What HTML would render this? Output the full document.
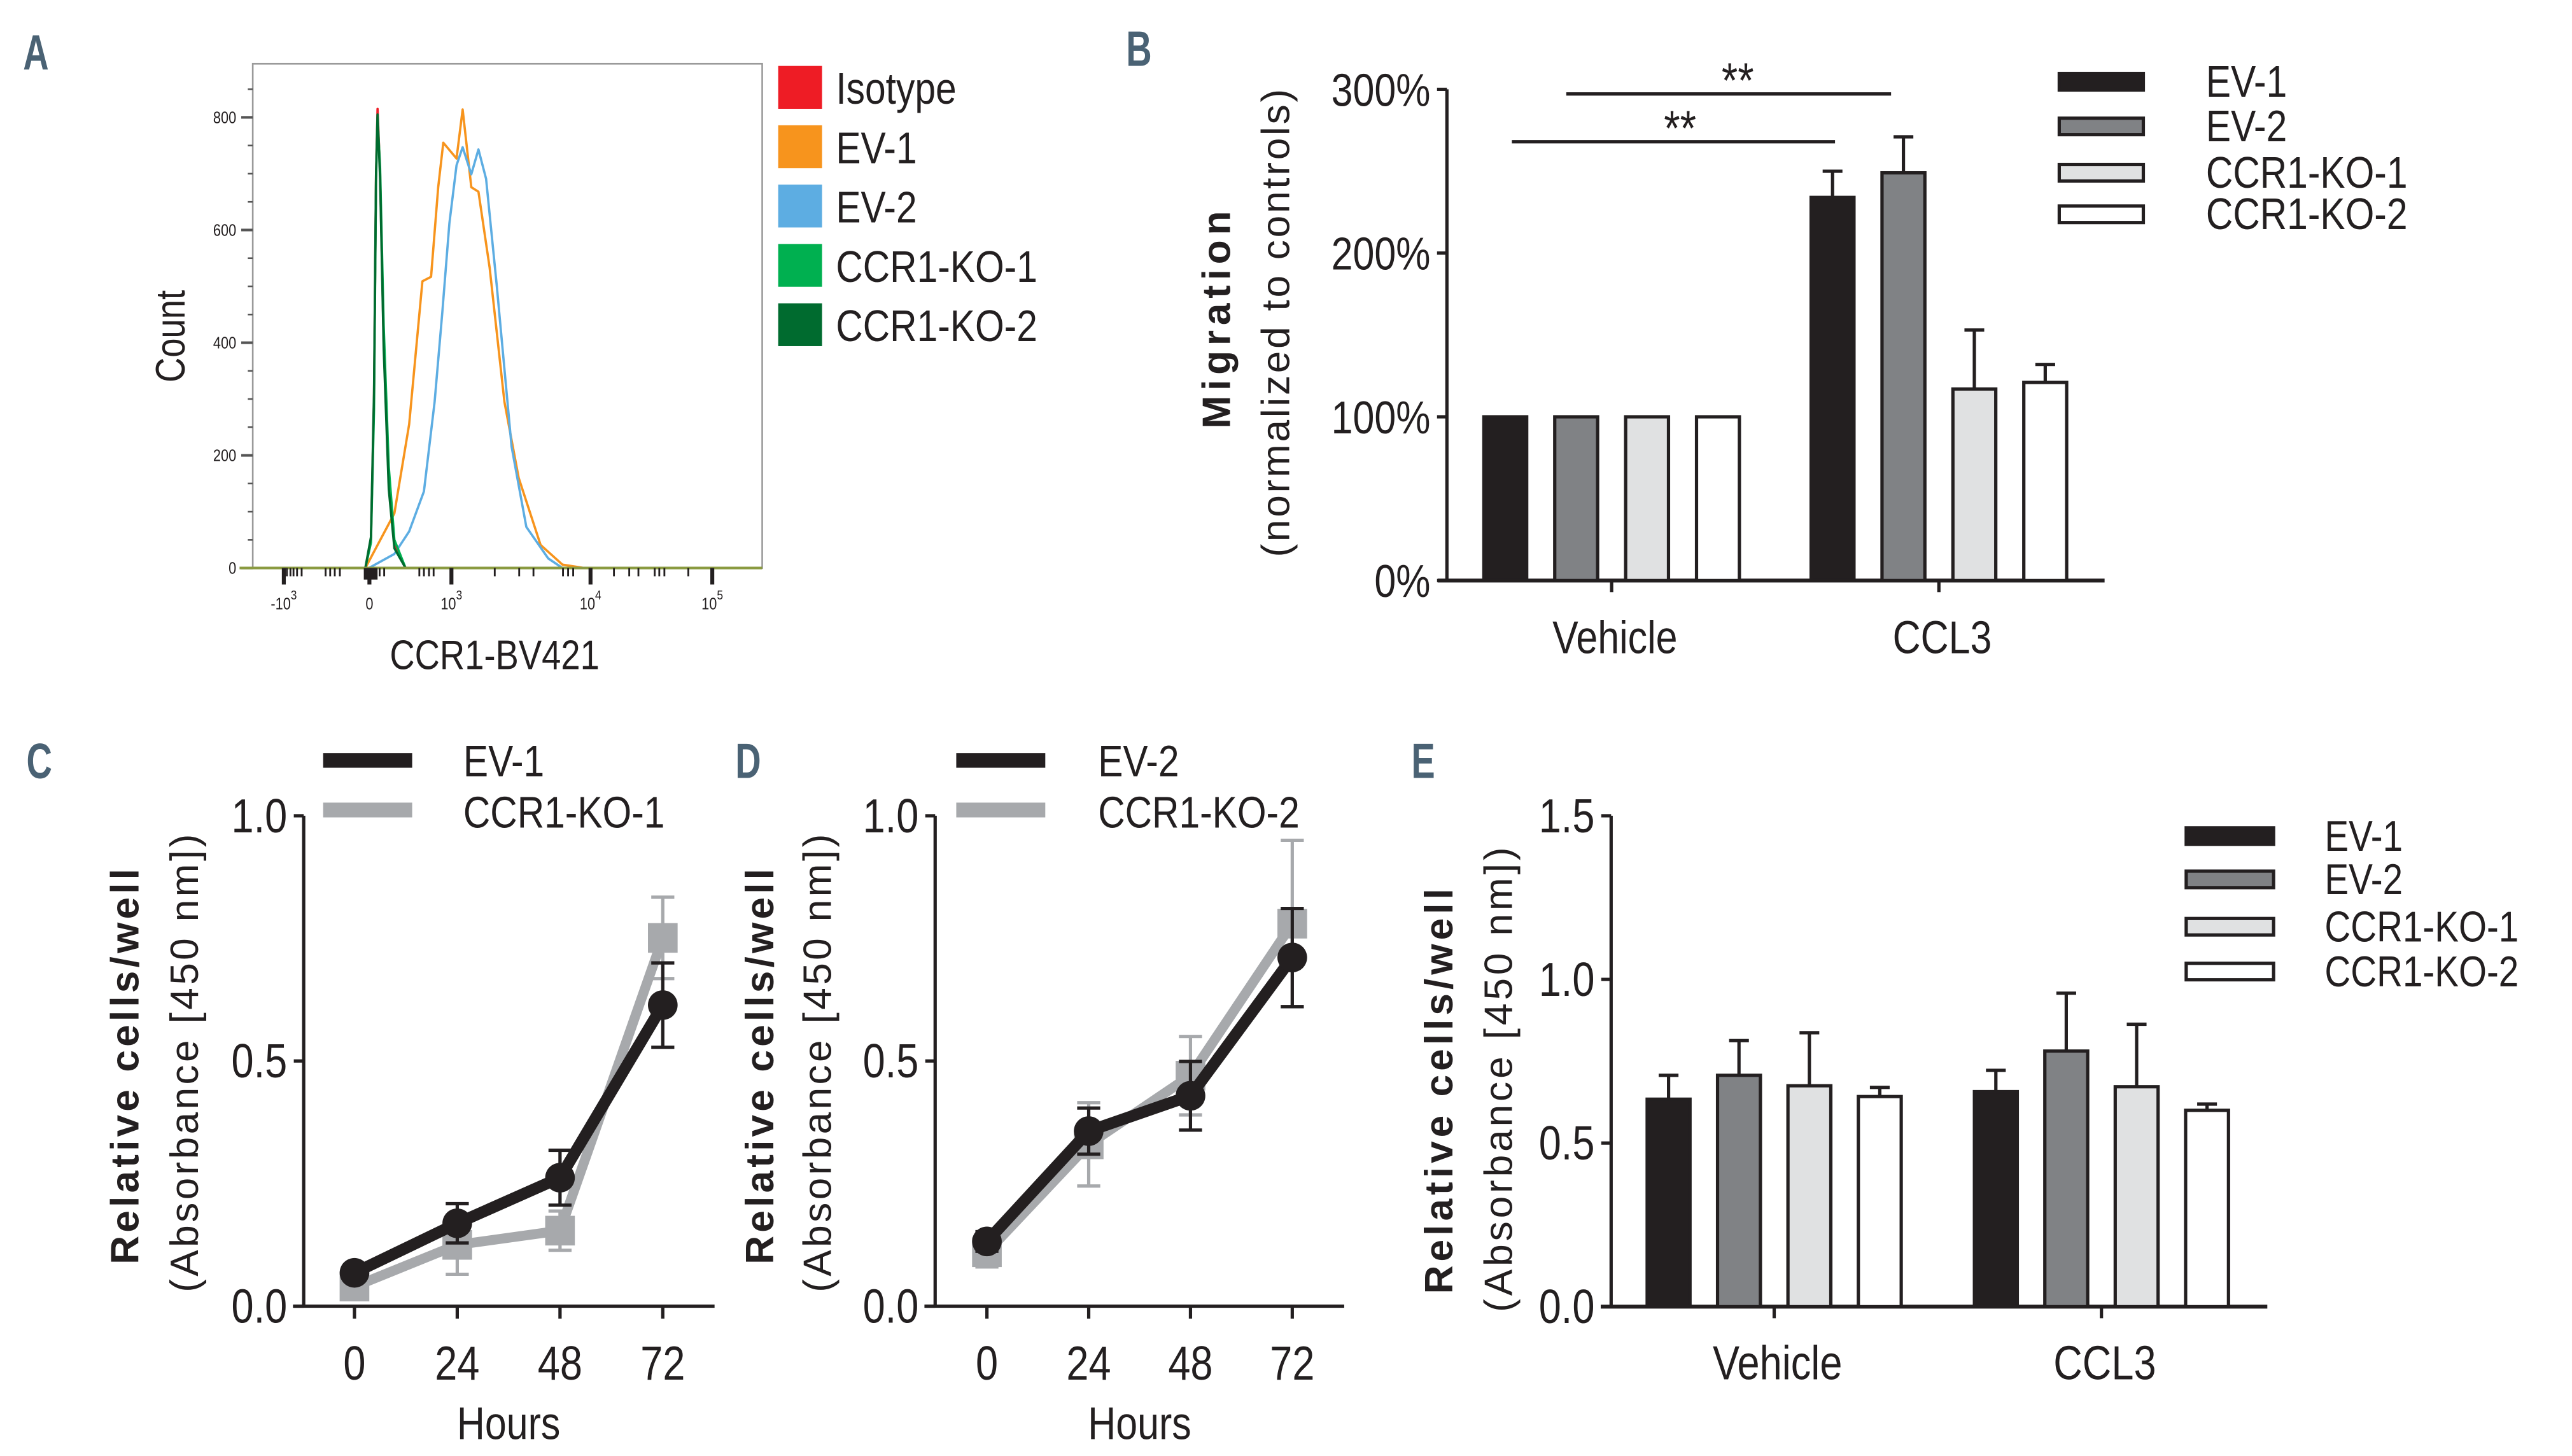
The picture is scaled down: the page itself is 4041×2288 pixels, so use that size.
<!DOCTYPE html>
<html><head><meta charset="utf-8"><style>
html,body{margin:0;padding:0;background:#fff;}
svg{display:block;}
text{font-family:"Liberation Sans Narrow","Liberation Sans",sans-serif;fill:#231f20;}
.b{font-family:"Liberation Sans",sans-serif;font-weight:bold;}
.r{font-family:"Liberation Sans",sans-serif;}
.pl{font-family:"Liberation Sans Narrow","Liberation Sans",sans-serif;font-weight:bold;fill:#4a6274;font-size:30px;}
</style></head><body>
<svg id="fig" xmlns="http://www.w3.org/2000/svg" width="4041" height="2288" viewBox="0 0 1560 883.3" preserveAspectRatio="none">
<text class="pl" x="14" y="42">A</text>
<text class="pl" x="683" y="40">B</text>
<text class="pl" x="16" y="472">C</text>
<text class="pl" x="446" y="472">D</text>
<text class="pl" x="856" y="472">E</text>
<g id="gA"></g>
<g id="gB"></g>
<g id="gC"></g>
<g id="gD"></g>
<g id="gE"></g>
</svg>
<script>
// ---------- Panel A data ----------
const histLegend = ["Isotype","EV-1","EV-2","CCR1-KO-1","CCR1-KO-2"];
const histColors = ["#ee1c25","#f7941d","#5dade2","#00b050","#006b2f"];
const countTicks = [0,200,400,600,800];
const narrowCh = [221,232,238,242,245,250,257,267,278,300];
const isoCounts = [0,50,300,700,815,700,400,150,40,0];
const ko1Counts = [0,45,280,690,800,710,430,180,50,0];
const ko2Counts = [0,55,310,700,805,690,390,140,35,0];
const ev1Ch = [221,278,307,333,350,364,374,400,412,429,443,465,494,522,565,608,651];
const ev1Counts = [0,97,255,509,517,676,755,727,814,676,668,533,295,160,41,6,0];
const ev2Ch = [228,278,307,336,357,372,386,400,412,429,443,458,479,508,537,580,608];
const ev2Counts = [0,25,65,136,295,453,612,715,747,699,743,691,501,216,73,17,0];
const xMajorCh = [61,229,390,663,902];
const xMajorLabels = ["-10","0","10","10","10"];
const xMajorExp = ["3","","3","4","5"];
const xMinorCh = [67,74,80,87,96,143,152,161,171,240,249,258,327,336,346,355,475,523,551,609,619,629,709,739,757,789,798,808,855];

// ---------- Panel B data ----------
const migGroups = ["Vehicle","CCL3"];
const migSeries = ["EV-1","EV-2","CCR1-KO-1","CCR1-KO-2"];
const migEV1 = [100,234]; const migEV1Err = [0,16];
const migEV2 = [100,249]; const migEV2Err = [0,22];
const migKO1 = [100,117]; const migKO1Err = [0,36];
const migKO2 = [100,121]; const migKO2Err = [0,11];
const migTicks = [0,100,200,300];

// ---------- Panel C/D data ----------
const hours = [0,24,48,72];
const cEV1 = [0.068,0.169,0.262,0.614]; const cEV1Err = [0.01,0.04,0.056,0.086];
const cKO1 = [0.040,0.125,0.154,0.751]; const cKO1Err = [0.01,0.06,0.04,0.083];
const dEV2 = [0.132,0.357,0.429,0.711]; const dEV2Err = [0.02,0.047,0.07,0.10];
const dKO2 = [0.110,0.330,0.470,0.780]; const dKO2Err = [0.03,0.085,0.08,0.17];
const growthTicks = [0.0,0.5,1.0];

// ---------- Panel E data ----------
const absEV1 = [0.634,0.657]; const absEV1Err = [0.073,0.065];
const absEV2 = [0.707,0.781]; const absEV2Err = [0.106,0.177];
const absKO1 = [0.675,0.672]; const absKO1Err = [0.162,0.191];
const absKO2 = [0.642,0.600]; const absKO2Err = [0.028,0.019];
const absTicks = [0.0,0.5,1.0,1.5];

const barFills = ["#231f20","#808285","#e0e1e2","#ffffff"];
const NS="http://www.w3.org/2000/svg";
function mk(parent,tag,attrs,txt){const e=document.createElementNS(NS,tag);for(const k in attrs)e.setAttribute(k,attrs[k]);if(txt!==undefined)e.textContent=txt;parent.appendChild(e);return e;}

// ===== Panel A =====
(function(){
const g=document.getElementById('gA');
const L=153.3,R=462.3,T=38.7,B=344.6;
const xA=ch=>L+ch/1000*(R-L);
const yA=c=>B-c/800*(B-71.2);
const frame=mk(g,'rect',{x:L,y:T,width:R-L,height:B-T,fill:'none',stroke:'#9a9a9a','stroke-width':1});


for(let c=0;c<=850;c+=50){const isMaj=c%200===0;const t=mk(g,'line',{x1:L-(isMaj?7:3),x2:L,y1:yA(c),y2:yA(c),stroke:'#555','stroke-width':isMaj?1.6:1});

}
countTicks.forEach(v=>{const t=mk(g,'text',{x:L-10,y:yA(v)+3.5,'text-anchor':'end','font-size':10,fill:'#444'},String(v));

});
function poly(chs,cs,col,w){const p=chs.map((c,i)=>xA(c).toFixed(2)+','+yA(cs[i]).toFixed(2)).join(' ');return mk(g,'polyline',{points:p,fill:'none',stroke:col,'stroke-width':w,'stroke-linejoin':'round'});}
const series=[[ev1Ch,ev1Counts,histColors[1]],[ev2Ch,ev2Counts,histColors[2]],[narrowCh,isoCounts,histColors[0]],[narrowCh,ko1Counts,histColors[3]],[narrowCh,ko2Counts,histColors[4]]];
const names=['histogram-ev-1','histogram-ev-2','histogram-isotype','histogram-ccr1-ko-1','histogram-ccr1-ko-2'];
series.forEach((s,i)=>{const p=poly(s[0],s[1],s[2],1.4);

});
const base=mk(g,'line',{x1:L-8,x2:R,y1:B,y2:B,stroke:'#8a9a40','stroke-width':1.6});


xMajorCh.forEach((c,i)=>{const t=mk(g,'line',{x1:xA(c),x2:xA(c),y1:B,y2:B+10,stroke:'#231f20','stroke-width':2.4});


const lb=mk(g,'text',{x:xA(c),y:B+25,'text-anchor':'middle','font-size':10,fill:'#444'});


mk(lb,'tspan',{},xMajorLabels[i]);
if(xMajorExp[i]){mk(lb,'tspan',{dy:-6,'font-size':8},xMajorExp[i]);}
});
xMinorCh.forEach(c=>{const t=mk(g,'line',{x1:xA(c),x2:xA(c),y1:B,y2:B+5,stroke:'#231f20','stroke-width':1.1});

});
const cl=mk(g,'rect',{x:xA(218),y:B,width:xA(245)-xA(218),height:7,fill:'#231f20'});


const xt=mk(g,'text',{x:300,y:406,'text-anchor':'middle','font-size':25},'CCR1-BV421');


const yt=mk(g,'text',{x:0,y:0,'text-anchor':'middle','font-size':25,transform:'translate(112,204) rotate(-90)'},'Count');


const ly=[53,89,125,161,197];
histLegend.forEach((n,i)=>{const s=mk(g,'rect',{x:472,y:ly[i]-13,width:26.6,height:26,fill:histColors[i]});


const t=mk(g,'text',{x:507,y:ly[i]+10,'font-size':27},n);

});
})();

// ===== Bar chart helper (B and E) =====
function barChart(g,o){
const yS=v=>o.B-(v-o.min)/(o.max-o.min)*(o.B-o.T);
const ax=mk(g,'line',{x1:o.AX,x2:o.AX,y1:o.T,y2:o.B,stroke:'#231f20','stroke-width':2});


const xa=mk(g,'line',{x1:o.XL,x2:o.XR,y1:o.B,y2:o.B,stroke:'#231f20','stroke-width':2.4});


o.ticks.forEach(v=>{const t=mk(g,'line',{x1:o.AX-6,x2:o.AX,y1:yS(v),y2:yS(v),stroke:'#231f20','stroke-width':2});


const l=mk(g,'text',{x:o.AX-10,y:yS(v)+10,'text-anchor':'end','font-size':o.fs},o.fmt(v));

});
o.groups.forEach((gn,gi)=>{const cx=o.gc[gi];
const tk=mk(g,'line',{x1:cx,x2:cx,y1:o.B,y2:o.B+7,stroke:'#231f20','stroke-width':2});


const l=mk(g,'text',{x:cx+2,y:o.B+44,'text-anchor':'middle','font-size':o.fs},gn);


o.vals.forEach((sv,si)=>{const x=cx+(si-1.5)*o.stride-o.bw/2;const v=sv[gi];const e=o.errs[si][gi];
if(e>0){const ey=yS(v+e);const ex=x+o.bw/2;
const el=mk(g,'line',{x1:ex,x2:ex,y1:ey,y2:yS(v),stroke:'#231f20','stroke-width':2});


const ec=mk(g,'line',{x1:ex-6,x2:ex+6,y1:ey,y2:ey,stroke:'#231f20','stroke-width':2});

}
const r=mk(g,'rect',{x:x,y:yS(v),width:o.bw,height:yS(o.min)-yS(v),fill:barFills[si],stroke:'#231f20','stroke-width':2});

});});
o.series.forEach((s,i)=>{const y=o.ly[i];
const sw=mk(g,'rect',{x:o.lx,y:y-5,width:o.lw,height:10,fill:barFills[i],stroke:'#231f20','stroke-width':2});


const t=mk(g,'text',{x:o.ltx,y:y+9,'font-size':o.lfs},s);

});
return yS;
}

// ===== Panel B =====
(function(){
const g=document.getElementById('gB');
barChart(g,{T:54.2,B:352.2,min:0,max:300,AX:877.6,XL:872,XR:1276.5,ticks:migTicks,fmt:v=>v+'%',fs:28,
groups:migGroups,gc:[977.5,1176],stride:43,bw:26,series:migSeries,
vals:[migEV1,migEV2,migKO1,migKO2],errs:[migEV1Err,migEV2Err,migKO1Err,migKO2Err],
ly:[49.6,76.7,104.8,130],lx:1249,lw:51,ltx:1338,lfs:27});
[[950,1147,57,1054,57],[917,1113,86,1019,86]].forEach(s=>{const l=mk(g,'line',{x1:s[0],x2:s[1],y1:s[2],y2:s[2],stroke:'#231f20','stroke-width':2});


const t=mk(g,'text',{x:s[3],y:s[4]+2,'text-anchor':'middle','font-size':30},'**');

});
const t1=mk(g,'text',{class:'b','text-anchor':'middle','font-size':24,transform:'translate(746,194) rotate(-90)',textLength:132},'Migration');


const t2=mk(g,'text',{class:'r','text-anchor':'middle','font-size':24,transform:'translate(782,196) rotate(-90)',textLength:284},'(normalized to controls)');


})();

// ===== Panels C and D =====
function growth(g,o){
const xS=h=>o.x0+h/72*(o.x72-o.x0);
const yS=v=>792.4-v*297.5;
const ax=mk(g,'line',{x1:o.AX,x2:o.AX,y1:494.9,y2:792.4,stroke:'#231f20','stroke-width':2});


const xa=mk(g,'line',{x1:o.XL,x2:o.XR,y1:792.4,y2:792.4,stroke:'#231f20','stroke-width':2});


growthTicks.forEach(v=>{const t=mk(g,'line',{x1:o.AX-6,x2:o.AX,y1:yS(v),y2:yS(v),stroke:'#231f20','stroke-width':2});


const l=mk(g,'text',{x:o.AX-10,y:yS(v)+10,'text-anchor':'end','font-size':29},v.toFixed(1));

});
hours.forEach(h=>{const t=mk(g,'line',{x1:xS(h),x2:xS(h),y1:792.4,y2:800,stroke:'#231f20','stroke-width':2});


const l=mk(g,'text',{x:xS(h),y:837,'text-anchor':'middle','font-size':29},String(h));

});
const ht=mk(g,'text',{x:(xS(0)+xS(72))/2,y:873,'text-anchor':'middle','font-size':28},'Hours');


const grey='#a7a9ac';
o.ko.forEach((v,i)=>{const e=o.koErr[i];const x=xS(hours[i]);
const el=mk(g,'line',{x1:x,x2:x,y1:yS(v+e),y2:yS(v-e),stroke:grey,'stroke-width':2});


[v+e,v-e].forEach(w=>{const c=mk(g,'line',{x1:x-7,x2:x+7,y1:yS(w),y2:yS(w),stroke:grey,'stroke-width':2});

});});
const kl=mk(g,'polyline',{points:o.ko.map((v,i)=>xS(hours[i])+','+yS(v)).join(' '),fill:'none',stroke:grey,'stroke-width':6});


o.ko.forEach((v,i)=>{const s=mk(g,'rect',{x:xS(hours[i])-9,y:yS(v)-9,width:18,height:18,fill:grey});

});
o.ev.forEach((v,i)=>{const e=o.evErr[i];const x=xS(hours[i]);
const el=mk(g,'line',{x1:x,x2:x,y1:yS(v+e),y2:yS(v-e),stroke:'#231f20','stroke-width':2});


[v+e,v-e].forEach(w=>{const c=mk(g,'line',{x1:x-7,x2:x+7,y1:yS(w),y2:yS(w),stroke:'#231f20','stroke-width':2});

});});
const el=mk(g,'polyline',{points:o.ev.map((v,i)=>xS(hours[i])+','+yS(v)).join(' '),fill:'none',stroke:'#231f20','stroke-width':7});


o.ev.forEach((v,i)=>{const c=mk(g,'circle',{cx:xS(hours[i]),cy:yS(v),r:9,fill:'#231f20'});

});
const l1=mk(g,'line',{x1:o.lx,x2:o.lx+54,y1:461.3,y2:461.3,stroke:'#231f20','stroke-width':9});


const l2=mk(g,'line',{x1:o.lx,x2:o.lx+54,y1:491.4,y2:491.4,stroke:grey,'stroke-width':9});


const t1=mk(g,'text',{x:o.ltx,y:471,'font-size':27},o.names[0]);


const t2=mk(g,'text',{x:o.ltx,y:502,'font-size':27},o.names[1]);


const y1=mk(g,'text',{class:'b','text-anchor':'middle','font-size':24,transform:'translate('+o.ty1+',647) rotate(-90)',textLength:240},'Relative cells/well');


const y2=mk(g,'text',{class:'r','text-anchor':'middle','font-size':24,transform:'translate('+o.ty2+',645) rotate(-90)',textLength:278},'(Absorbance [450 nm])');


}
growth(document.getElementById('gC'),{x0:215,x72:402,AX:184.2,XL:177.7,XR:433.4,ev:cEV1,evErr:cEV1Err,ko:cKO1,koErr:cKO1Err,lx:196,ltx:281,names:['EV-1','CCR1-KO-1'],ty1:84,ty2:120});
growth(document.getElementById('gD'),{x0:598.6,x72:783.8,AX:567.2,XL:560.7,XR:815.3,ev:dEV2,evErr:dEV2Err,ko:dKO2,koErr:dKO2Err,lx:580,ltx:666,names:['EV-2','CCR1-KO-2'],ty1:469,ty2:504});

// ===== Panel E =====
(function(){
const g=document.getElementById('gE');
barChart(g,{T:494.9,B:792.7,min:0,max:1.5,AX:977.2,XL:970.9,XR:1375.2,ticks:absTicks,fmt:v=>v.toFixed(1),fs:29,
groups:migGroups,gc:[1076.1,1274.6],stride:42.7,bw:26,series:migSeries,
vals:[absEV1,absEV2,absKO1,absKO2],errs:[absEV1Err,absEV2Err,absKO1Err,absKO2Err],
ly:[507.2,533.5,562.2,589.4],lx:1326,lw:53,ltx:1410,lfs:26});
const y1=mk(g,'text',{class:'b','text-anchor':'middle','font-size':24,transform:'translate(881,662) rotate(-90)',textLength:246},'Relative cells/well');


const y2=mk(g,'text',{class:'r','text-anchor':'middle','font-size':24,transform:'translate(917,655) rotate(-90)',textLength:282},'(Absorbance [450 nm])');


})();

// condense non-title text to mimic the condensed face
document.querySelectorAll('#fig text').forEach(t=>{
if(t.classList.contains('b')||t.classList.contains('r'))return;
const f=t.classList.contains('pl')?0.72:0.84;
const w=t.getComputedTextLength();
if(w>0){t.setAttribute('textLength',(w*f).toFixed(2));t.setAttribute('lengthAdjust','spacingAndGlyphs');}
});
</script>
</body></html>
